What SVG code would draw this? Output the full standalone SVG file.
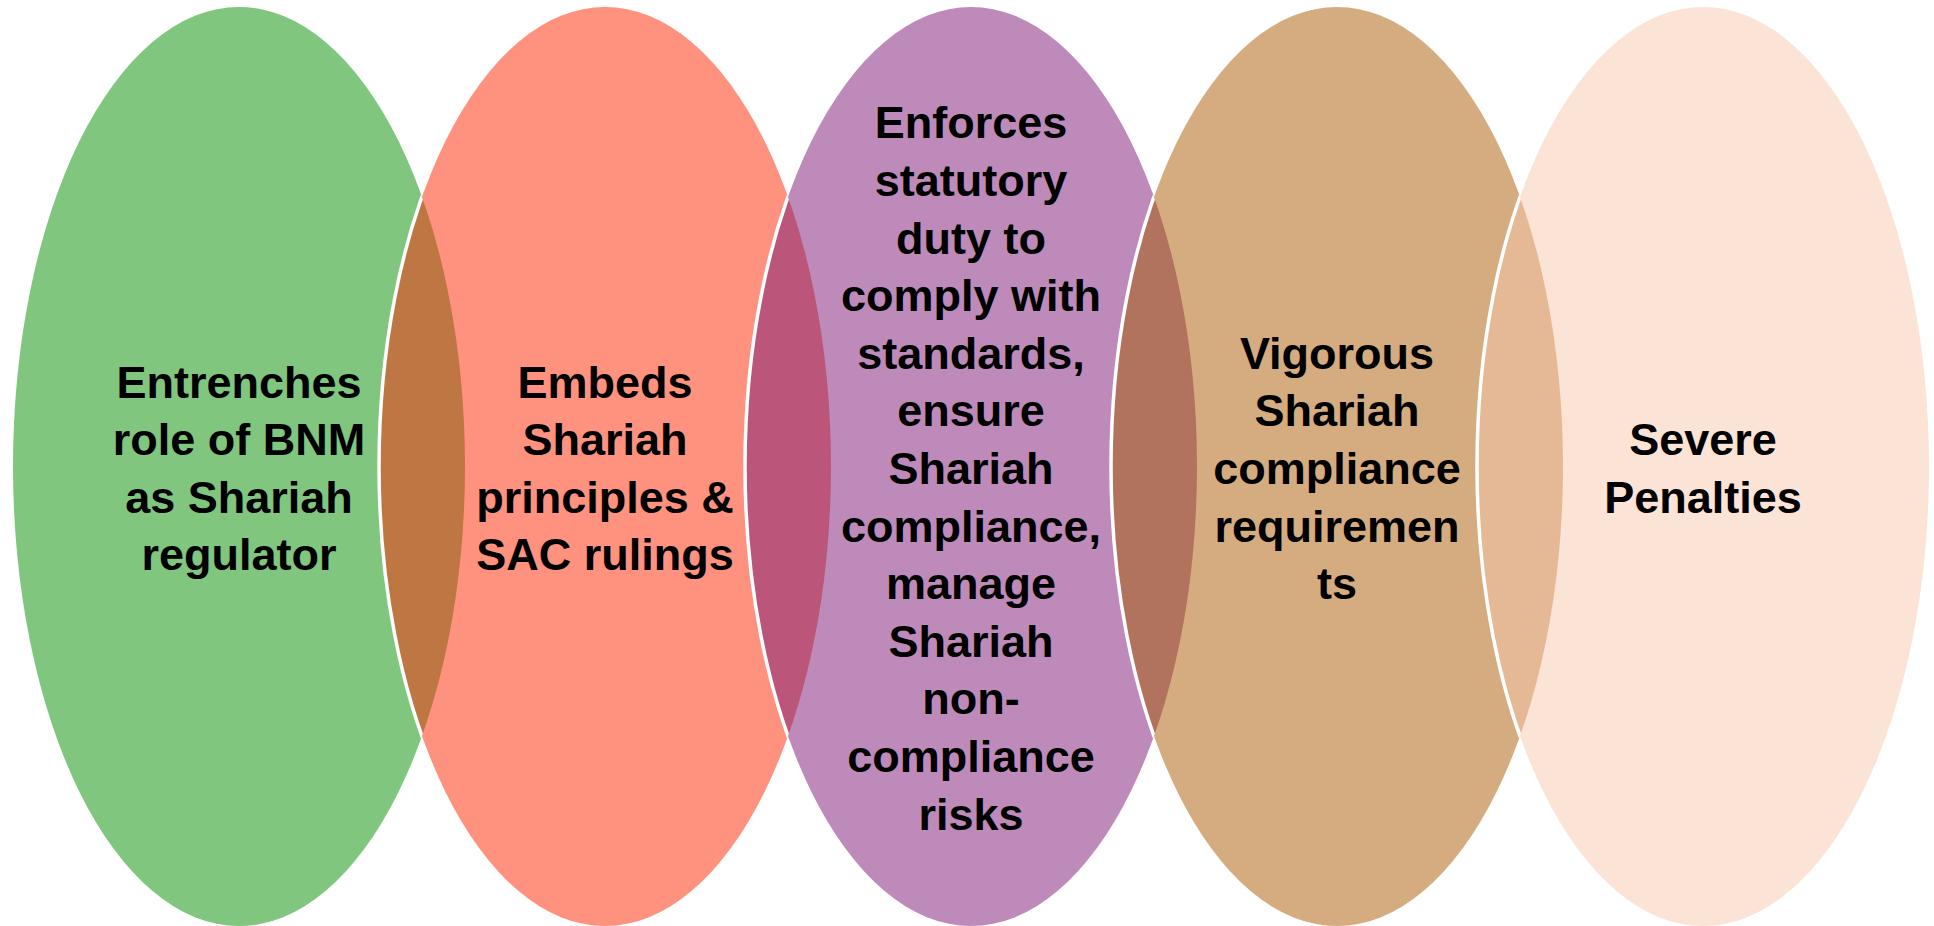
<svg xmlns="http://www.w3.org/2000/svg" width="1934" height="926" viewBox="0 0 1934 926">
  <style>
    .lbl { font-family: "Liberation Sans", Arial, sans-serif; font-weight: bold; font-size: 45px; fill: #000; text-anchor: middle; }
    .sep { fill: none; stroke: #fff; stroke-width: 3.5; }
  </style>
  <defs>
    <ellipse id="e1" cx="239" cy="466.5" rx="226" ry="459.5"/>
    <ellipse id="e2" cx="605" cy="466.5" rx="226" ry="459.5"/>
    <ellipse id="e3" cx="971" cy="466.5" rx="226" ry="459.5"/>
    <ellipse id="e4" cx="1337" cy="466.5" rx="226" ry="459.5"/>
    <ellipse id="e5" cx="1703" cy="466.5" rx="226" ry="459.5"/>
    <clipPath id="c1"><use href="#e1"/></clipPath>
    <clipPath id="c2"><use href="#e2"/></clipPath>
    <clipPath id="c3"><use href="#e3"/></clipPath>
    <clipPath id="c4"><use href="#e4"/></clipPath>
  </defs>
  <rect width="1934" height="926" fill="#fff"/>

  <g id="shapes">
    <use href="#e1" fill="#80C67F"/>
    <use href="#e2" fill="#FF927E"/>
    <use href="#e3" fill="#BD8ABA"/>
    <use href="#e4" fill="#D4AC80"/>
    <use href="#e5" fill="#FBE3D6"/>
  </g>

  <g id="overlaps">
    <g clip-path="url(#c1)">
      <use href="#e2" fill="#BE7742"/>
      <use href="#e2" class="sep"/>
    </g>
    <g clip-path="url(#c2)">
      <use href="#e3" fill="#BB567A"/>
      <use href="#e3" class="sep"/>
    </g>
    <g clip-path="url(#c3)">
      <use href="#e4" fill="#B2735E"/>
      <use href="#e4" class="sep"/>
    </g>
    <g clip-path="url(#c4)">
      <use href="#e5" fill="#E5B995"/>
      <use href="#e5" class="sep"/>
    </g>
  </g>

  <g id="node1">
    <text class="lbl" x="239" y="397.6">Entrenches</text>
    <text class="lbl" x="239" y="455.2">role of BNM</text>
    <text class="lbl" x="239" y="512.8">as Shariah</text>
    <text class="lbl" x="239" y="570.4">regulator</text>
  </g>

  <g id="node2">
    <text class="lbl" x="605" y="397.6">Embeds</text>
    <text class="lbl" x="605" y="455.2">Shariah</text>
    <text class="lbl" x="605" y="512.8">principles &amp;</text>
    <text class="lbl" x="605" y="570.4">SAC rulings</text>
  </g>

  <g id="node3">
    <text class="lbl" x="971" y="138.4">Enforces</text>
    <text class="lbl" x="971" y="196">statutory</text>
    <text class="lbl" x="971" y="253.6">duty to</text>
    <text class="lbl" x="971" y="311.2">comply with</text>
    <text class="lbl" x="971" y="368.8">standards,</text>
    <text class="lbl" x="971" y="426.4">ensure</text>
    <text class="lbl" x="971" y="484">Shariah</text>
    <text class="lbl" x="971" y="541.6">compliance,</text>
    <text class="lbl" x="971" y="599.2">manage</text>
    <text class="lbl" x="971" y="656.8">Shariah</text>
    <text class="lbl" x="971" y="714.4">non-</text>
    <text class="lbl" x="971" y="772">compliance</text>
    <text class="lbl" x="971" y="829.6">risks</text>
  </g>

  <g id="node4">
    <text class="lbl" x="1337" y="368.8">Vigorous</text>
    <text class="lbl" x="1337" y="426.4">Shariah</text>
    <text class="lbl" x="1337" y="484">compliance</text>
    <text class="lbl" x="1337" y="541.6">requiremen</text>
    <text class="lbl" x="1337" y="599.2">ts</text>
  </g>

  <g id="node5">
    <text class="lbl" x="1703" y="455.2">Severe</text>
    <text class="lbl" x="1703" y="512.8">Penalties</text>
  </g>

  <g id="connectors"/>
</svg>
